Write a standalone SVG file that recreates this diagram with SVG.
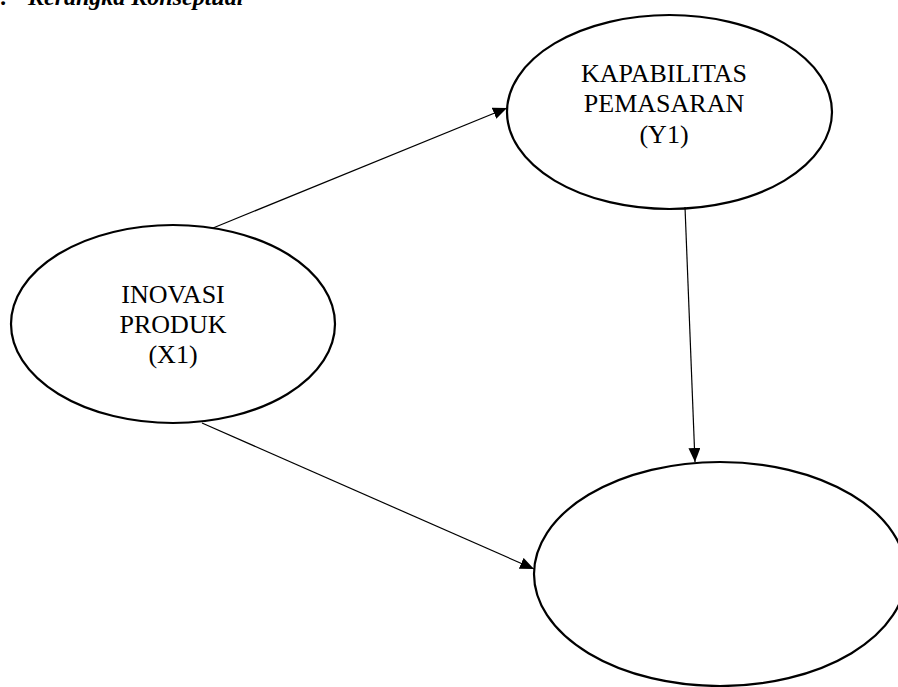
<svg xmlns="http://www.w3.org/2000/svg" width="898" height="687" viewBox="0 0 898 687">
  <defs>
    <marker id="arrow" markerUnits="userSpaceOnUse" markerWidth="14" markerHeight="12" viewBox="0 0 14 12" refX="14" refY="6" orient="auto">
      <path d="M0,0 L14,6 L0,12 Z" fill="#000"/>
    </marker>
    <style>
      .node { fill: #fff; stroke: #000; stroke-width: 2.2; }
      .label { font-family: "Liberation Serif", "Times New Roman", serif; font-size: 26px; fill: #000; text-anchor: middle; }
      .edge { stroke: #000; stroke-width: 1.2; fill: none; marker-end: url(#arrow); }
      .title { font-family: "Liberation Serif", "Times New Roman", serif; font-size: 24px; font-weight: bold; font-style: italic; fill: #000; }
    </style>
  </defs>
  <rect width="898" height="687" fill="#fff"/>
  <text class="title" y="5"><tspan x="1">.</tspan><tspan x="28">Kerangka Konseptual</tspan></text>

  <g id="node-x1">
    <ellipse class="node" cx="173" cy="324" rx="162" ry="99"/>
    <text class="label"><tspan x="173" y="303">INOVASI</tspan><tspan x="173" y="333">PRODUK</tspan><tspan x="173" y="363">(X1)</tspan></text>
  </g>

  <g id="node-y1">
    <ellipse class="node" cx="669.5" cy="112" rx="162.5" ry="97"/>
    <text class="label"><tspan x="664" y="82">KAPABILITAS</tspan><tspan x="664" y="112">PEMASARAN</tspan><tspan x="664" y="143">(Y1)</tspan></text>
  </g>

  <g id="node-y2">
    <ellipse class="node" cx="720" cy="574" rx="186" ry="112"/>
  </g>

  <g id="connectors">
    <line class="edge" x1="213" y1="228" x2="507" y2="108"/>
    <line class="edge" x1="202" y1="423" x2="534" y2="569"/>
    <line class="edge" x1="685" y1="207" x2="695" y2="462"/>
  </g>
</svg>
